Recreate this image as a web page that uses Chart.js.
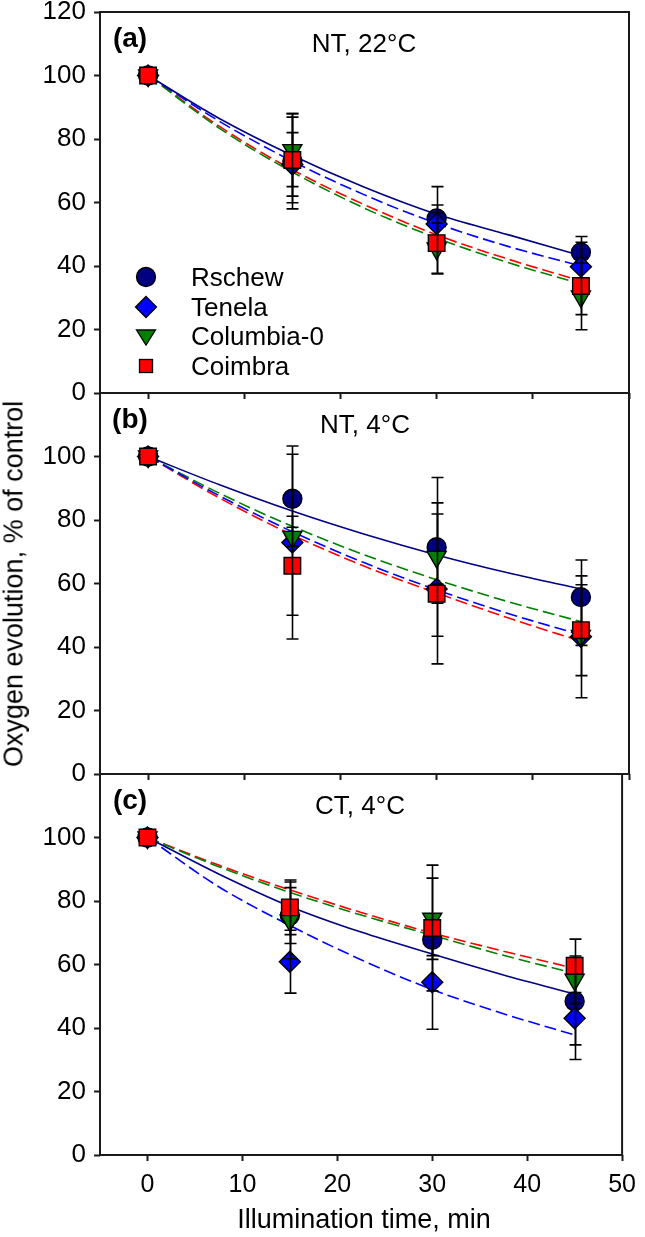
<!DOCTYPE html>
<html>
<head>
<meta charset="utf-8">
<script src="https://cdn.jsdelivr.net/npm/chart.js@4.4.0/dist/chart.umd.min.js"></script>
<style>
  html, body { margin: 0; padding: 0; background: #fff; }
  #fig { position: relative; width: 645px; height: 1237px; overflow: hidden;
         font-family: 'Liberation Sans', Arial, Helvetica, sans-serif; color: #000; }
  #fig canvas { position: absolute; left: 0; }
  .t { position: absolute; transform: translate(-50%, -50%); line-height: 1; white-space: nowrap; font-size: 26px; }
  .lab { font-weight: bold; font-size: 28px; }
  .ytitle { transform: translate(-50%, -50%) rotate(-90deg); font-size: 27px; }
  .xtitle { font-size: 27px; }
  .legrow { position: absolute; line-height: 1; font-size: 26px; white-space: nowrap; transform: translateY(-50%); }
  .legsym { position: absolute; width: 24px; height: 24px; transform: translate(-50%, -50%); }
</style>
</head>
<body>
<div id="fig">
  <canvas id="cA" width="645" height="440" style="top:-20px;width:645px;height:440px;"></canvas>
  <canvas id="cB" width="645" height="460" style="top:360px;width:645px;height:460px;"></canvas>
  <canvas id="cC" width="645" height="497" style="top:740px;width:645px;height:497px;"></canvas>
</div>
<script>
// ---------------- data ----------------
const seriesNames = ['Rschew', 'Tenela', 'Columbia-0', 'Coimbra'];
const timeMin = [0, 15, 30, 45];
const fitTime = [0, 7.5, 15, 22.5, 30, 37.5, 45];
const xTickValues = [0, 10, 20, 30, 40, 50];
const yTicksTop = [0, 20, 40, 60, 80, 100, 120];
const yTicksLower = [0, 20, 40, 60, 80, 100];
const panelTitles = ['NT, 22°C', 'NT, 4°C', 'CT, 4°C'];
const panelLetters = ['(a)', '(b)', '(c)'];
const xAxisTitle = 'Illumination time, min';
const yAxisTitle = 'Oxygen evolution, % of control';

// (a) NT, 22°C  — rows: Rschew, Tenela, Columbia-0, Coimbra
const meanA = [[100, 73, 55, 44.3], [100, 72, 53.2, 39.8], [100, 76.5, 45.5, 30.4], [100, 73.4, 47.2, 33.7]];
const sdA   = [[0, 15, 10, 5], [0, 10, 6, 7.7], [0, 11.5, 8, 10.5], [0, 13.5, 9.5, 9]];
const fitA  = [[100, 86.3, 74.8, 64.8, 56.3, 49.8, 43.2], [100, 85.4, 73, 62.4, 53.4, 46.1, 40],
               [100, 83.2, 69.6, 58.2, 48.8, 41, 34.4], [100, 83.8, 70.3, 59.3, 49.8, 42.1, 35.3]];

// (b) NT, 4°C
const meanB = [[100, 86.7, 71.4, 55.7], [100, 72.9, 58.3, 43.2], [100, 74.7, 68.4, 43.5], [100, 65.6, 56.8, 45.3]];
const sdB   = [[0, 14, 14, 11.7], [0, 30.4, 23.6, 19.2], [0, 3, 25, 3], [0, 15.6, 3, 14.3]];
const fitB  = [[100, 91, 82.8, 75.5, 69, 63.3, 58.3], [100, 87.5, 76.3, 66.5, 58, 50.5, 43.8],
               [100, 88.3, 78, 69, 61.2, 54.2, 48], [100, 86.8, 75.3, 65.4, 57, 49.1, 41.8]];

// (c) CT, 4°C
const meanC = [[100, 75.4, 67.8, 48.4], [100, 60.9, 54.4, 43.1], [100, 73.9, 74.4, 55.2], [100, 78, 71.5, 59.6]];
const sdC   = [[0, 8.8, 5, 13.7], [0, 9.9, 14.8, 13], [0, 12.1, 12.8, 7.5], [0, 8.6, 19.8, 8.4]];
const fitC  = [[100, 88.5, 78.3, 70.2, 63.3, 56.7, 50.7], [100, 84.5, 72.3, 61.5, 52.1, 44.5, 37.8],
               [100, 90.8, 82.7, 75.6, 69.2, 62.9, 57.2], [100, 91.3, 83.5, 76.4, 69.9, 64.2, 58.8]];

// ---------------- styles ----------------
const seriesColors = ['#000080', '#0000ff', '#008000', '#ff0000'];
const pointStyles = ['circle', 'rectRot', 'triangle', 'rect'];
const pointRadii = [9.5, 10.5, 11, 11.7];
const pointRotations = [0, 0, 180, 0];
const lineDashes = [[], [12, 5], [12, 5], [12, 5]];

Chart.defaults.font.family = "'Liberation Sans', Arial, Helvetica, sans-serif";
Chart.defaults.color = '#000';

const framePlugin = {
  id: 'frame',
  beforeDatasetsDraw(chart) {
    const { ctx, chartArea: a } = chart;
    ctx.save();
    ctx.strokeStyle = '#1a1a1a';
    ctx.lineWidth = 2;
    ctx.strokeRect(a.left, a.top, a.right - a.left, a.bottom - a.top);
    ctx.restore();
  }
};

const errorBarPlugin = {
  id: 'errorBars',
  afterDatasetDraw(chart, args) {
    const ds = chart.data.datasets[args.index];
    if (!ds.sd) return;
    const { ctx } = chart;
    const xs = chart.scales.x, ys = chart.scales.y;
    const cap = 6;
    ctx.save();
    ctx.strokeStyle = '#000';
    ctx.lineWidth = 1.6;
    ds.data.forEach((p, i) => {
      const e = ds.sd[i];
      if (!e) return;
      const px = Math.round(xs.getPixelForValue(p.x)) + 0.5;
      const top = ys.getPixelForValue(p.y + e);
      const bot = ys.getPixelForValue(p.y - e);
      ctx.beginPath();
      ctx.moveTo(px, top); ctx.lineTo(px, bot);
      ctx.moveTo(px - cap, top); ctx.lineTo(px + cap, top);
      ctx.moveTo(px - cap, bot); ctx.lineTo(px + cap, bot);
      ctx.stroke();
    });
    ctx.restore();
  }
};

Chart.register(framePlugin, errorBarPlugin);

function makePanel(id, means, sds, fits, yTicks, showXLabels, padTop, xAxisH) {
  const datasets = [];
  fits.forEach((f, s) => datasets.push({
    label: seriesNames[s] + ' fit',
    data: fitTime.map((t, i) => ({ x: t, y: f[i] })),
    showLine: true,
    borderColor: seriesColors[s],
    borderWidth: 1.6,
    borderDash: lineDashes[s],
    pointRadius: 0,
    cubicInterpolationMode: 'monotone',
    order: 20 + s
  }));
  means.forEach((m, s) => datasets.push({
    label: seriesNames[s],
    data: timeMin.map((t, i) => ({ x: t, y: m[i] })),
    sd: sds[s],
    showLine: false,
    pointStyle: pointStyles[s],
    pointRadius: pointRadii[s],
    pointRotation: pointRotations[s],
    pointBackgroundColor: seriesColors[s],
    pointBorderColor: '#000',
    pointBorderWidth: 1.4,
    order: 4 - s
  }));

  return new Chart(document.getElementById(id), {
    type: 'scatter',
    data: { datasets },
    options: {
      responsive: false,
      animation: false,
      events: [],
      layout: { padding: { top: padTop, left: 0, right: 16, bottom: 0 } },
      plugins: { legend: { display: false }, tooltip: { enabled: false } },
      scales: {
        x: {
          type: 'linear', min: -5, max: 50,
          afterBuildTicks: sc => { sc.ticks = xTickValues.map(v => ({ value: v })); },
          afterFit: sc => { sc.height = xAxisH; },
          border: { display: false },
          grid: { drawOnChartArea: false, drawTicks: true, tickLength: 6, tickWidth: 2, tickColor: '#1a1a1a' },
          ticks: { display: showXLabels, padding: 9, font: { size: 25 }, color: '#000', maxRotation: 0 }
        },
        y: {
          type: 'linear', min: 0, max: 120,
          afterBuildTicks: sc => { sc.ticks = yTicks.map(v => ({ value: v })); },
          afterFit: sc => { sc.width = 100; },
          border: { display: false },
          grid: { drawOnChartArea: false, drawTicks: true, tickLength: 6, tickWidth: 2, tickColor: '#1a1a1a' },
          ticks: { padding: 8, font: { size: 26 }, color: '#000' }
        }
      }
    }
  });
}

makePanel('cA', meanA, sdA, fitA, yTicksTop, false, 32, 27);
makePanel('cB', meanB, sdB, fitB, yTicksLower, false, 33, 46);
makePanel('cC', meanC, sdC, fitC, yTicksLower, true, 34, 82);

// ---------------- text overlays ----------------
const fig = document.getElementById('fig');
function addText(txt, cls, x, y) {
  const d = document.createElement('div');
  d.className = 't ' + cls;
  d.textContent = txt;
  d.style.left = x + 'px';
  d.style.top = y + 'px';
  fig.appendChild(d);
  return d;
}
const panelTops = [12, 393, 774];
const titleX = [364, 365, 360];
panelTops.forEach((top, i) => {
  addText(panelLetters[i], 'lab', 130, top + 26);
  addText(panelTitles[i], '', titleX[i], top + 31);
});
addText(yAxisTitle, 'ytitle', 14, 584);
addText(xAxisTitle, 'xtitle', 364, 1219);

// legend (panel a)
const legendY = [276.5, 306.5, 336, 365.5];
const svgShapes = [
  '<circle cx="12" cy="12" r="9.5" fill="#000080" stroke="#000" stroke-width="1.3"/>',
  '<polygon points="12,1.5 22.5,12 12,22.5 1.5,12" fill="#0000ff" stroke="#000" stroke-width="1.3"/>',
  '<polygon points="2.5,6 21.5,6 12,21" fill="#008000" stroke="#000" stroke-width="1.3"/>',
  '<rect x="5.5" y="5.5" width="13" height="13" fill="#ff0000" stroke="#000" stroke-width="1.3"/>'
];
seriesNames.forEach((name, i) => {
  const s = document.createElement('div');
  s.className = 'legsym';
  s.style.left = '146px';
  s.style.top = legendY[i] + 'px';
  s.innerHTML = '<svg width="24" height="24" viewBox="0 0 24 24">' + svgShapes[i] + '</svg>';
  fig.appendChild(s);
  const r = document.createElement('div');
  r.className = 'legrow';
  r.style.left = '191px';
  r.style.top = legendY[i] + 'px';
  r.textContent = name;
  fig.appendChild(r);
});
</script>
</body>
</html>
